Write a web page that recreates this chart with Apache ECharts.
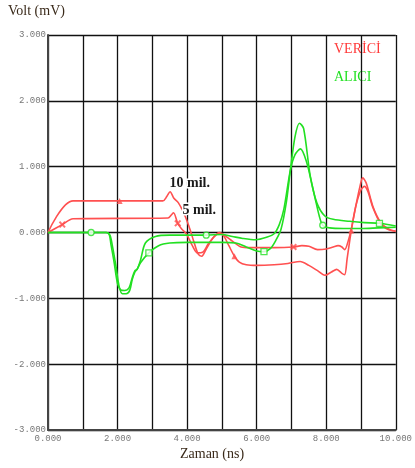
<!DOCTYPE html>
<html>
<head>
<meta charset="utf-8">
<script src="https://cdn.jsdelivr.net/npm/echarts@6/dist/echarts.min.js"></script>
<style>
  html, body { margin: 0; padding: 0; background: #ffffff; }
  #chart { width: 415px; height: 468px; }
</style>
</head>
<body>
<div id="chart"></div>
<script>
// Axis ticks
const xTicks = [0, 1, 2, 3, 4, 5, 6, 7, 8, 9, 10];
const yTicks = [-3, -2, -1, 0, 1, 2, 3];

// VERİCİ (transmitter), 10 mil trace
const tx10T = [0, 0.72, 3.3, 3.42, 3.51, 3.62, 3.75, 3.9, 4.05, 4.2, 4.32, 4.42, 4.55, 4.75, 4.93, 5.05, 5.2, 5.36, 5.5, 5.7, 6.0, 6.5, 6.9, 7.25, 7.5, 7.75, 7.96, 8.15, 8.3, 8.45, 8.53, 8.6, 8.72, 8.85, 8.97, 9.05, 9.15, 9.34, 9.57, 9.8, 10];
const tx10V = [0, 0.48, 0.48, 0.55, 0.62, 0.52, 0.45, 0.3, 0.1, -0.15, -0.33, -0.36, -0.25, -0.08, -0.01, -0.05, -0.2, -0.36, -0.45, -0.49, -0.5, -0.49, -0.47, -0.44, -0.5, -0.58, -0.65, -0.6, -0.56, -0.62, -0.64, -0.4, 0.03, 0.4, 0.7, 0.83, 0.75, 0.4, 0.15, 0.05, 0.02];

// VERİCİ, 5 mil trace
const tx5T = [0, 0.41, 0.72, 3.45, 3.55, 3.61, 3.73, 3.85, 3.98, 4.15, 4.3, 4.45, 4.6, 4.8, 4.93, 5.1, 5.3, 5.55, 5.8, 6.5, 7.06, 7.3, 7.5, 7.75, 8.0, 8.2, 8.34, 8.45, 8.53, 8.62, 8.72, 8.85, 9.0, 9.1, 9.2, 9.34, 9.57, 9.8, 10];
const tx5V = [0, 0.12, 0.21, 0.22, 0.27, 0.30, 0.14, 0.05, -0.02, -0.2, -0.31, -0.3, -0.18, -0.05, 0.0, -0.05, -0.13, -0.22, -0.23, -0.23, -0.22, -0.2, -0.21, -0.26, -0.25, -0.22, -0.2, -0.22, -0.26, -0.15, 0.05, 0.4, 0.65, 0.70, 0.62, 0.38, 0.13, 0.04, 0.02];

// ALICI (receiver), first trace
const rxAT = [0, 1.24, 1.67, 1.76, 1.81, 1.9, 2.0, 2.09, 2.2, 2.33, 2.42, 2.5, 2.56, 2.66, 2.8, 3.09, 3.5, 4.0, 4.55, 5.0, 5.3, 5.6, 5.97, 6.3, 6.5, 6.65, 6.78, 6.97, 7.1, 7.26, 7.44, 7.56, 7.68, 7.8, 7.9, 8.1, 8.5, 9.0, 9.5, 10];
const rxAV = [0, 0, 0, -0.03, -0.18, -0.45, -0.78, -0.87, -0.88, -0.84, -0.69, -0.58, -0.56, -0.42, -0.16, -0.06, -0.04, -0.04, -0.04, -0.03, -0.06, -0.09, -0.11, -0.07, -0.02, 0.12, 0.35, 0.95, 1.18, 1.27, 1.06, 0.8, 0.52, 0.25, 0.11, 0.07, 0.06, 0.06, 0.07, 0.08];

// ALICI, second trace
const rxBT = [0, 1.24, 1.67, 1.78, 1.85, 1.95, 2.05, 2.14, 2.25, 2.35, 2.42, 2.5, 2.56, 2.66, 2.9, 3.18, 3.5, 4.0, 5.0, 5.4, 5.7, 6.0, 6.21, 6.4, 6.55, 6.7, 6.85, 6.97, 7.1, 7.23, 7.35, 7.54, 7.73, 7.96, 8.2, 8.67, 9.1, 9.53, 10];
const rxBV = [0, 0, 0, -0.04, -0.2, -0.5, -0.83, -0.93, -0.93, -0.88, -0.72, -0.6, -0.56, -0.46, -0.31, -0.2, -0.16, -0.15, -0.15, -0.16, -0.22, -0.28, -0.29, -0.24, -0.12, 0.05, 0.45, 0.95, 1.45, 1.66, 1.58, 0.86, 0.45, 0.25, 0.2, 0.17, 0.15, 0.14, 0.1];

// Marker positions along each trace
const tx10MarkT = [2.06, 5.36, 8.72];
const tx10MarkV = [0.48, -0.36, 0.03];
const tx5MarkT = [0.41, 3.73, 7.06];
const tx5MarkV = [0.12, 0.14, -0.22];
const rxAMarkT = [1.24, 4.55, 7.9];
const rxAMarkV = [0, -0.04, 0.11];
const rxBMarkT = [2.9, 6.21, 9.53];
const rxBMarkV = [-0.31, -0.29, 0.14];

const zip = (a, b) => a.map((t, i) => [t, b[i]]);

const RED = '#ff5050';
const GREEN = '#22e022';
const crossPath = 'path://M0,2L2,0L5,3L8,0L10,2L7,5L10,8L8,10L5,7L2,10L0,8L3,5Z';
const serif = '"Liberation Serif", "DejaVu Serif", serif';
const mono = '"Liberation Mono", "DejaVu Sans Mono", monospace';

function traceSeries(t, v, color) {
  return {
    type: 'line', data: zip(t, v), symbol: 'none', smooth: 0.3,
    lineStyle: { color: color, width: 1.6 }, z: 3, silent: true
  };
}
function markSeries(t, v, symbol, color, size, filled) {
  return {
    type: 'scatter', data: zip(t, v), symbol: symbol, symbolSize: size,
    itemStyle: filled ? { color: color } : { color: '#fff', borderColor: color, borderWidth: 1.3 },
    z: 4, silent: true
  };
}

const chart = echarts.init(document.getElementById('chart'), null, { renderer: 'canvas' });
chart.setOption({
  animation: false,
  backgroundColor: '#ffffff',
  grid: { left: 48, right: 15, top: 35, bottom: 38 },
  xAxis: {
    type: 'value', min: xTicks[0], max: xTicks[xTicks.length - 1], interval: 1,
    axisLine: { show: true, onZero: false, lineStyle: { color: '#444', width: 2 } },
    axisTick: { show: false },
    splitLine: { show: true, lineStyle: { color: '#111', width: 1.3 } },
    axisLabel: {
      fontFamily: mono, fontSize: 9, color: '#777', margin: 4,
      formatter: v => (xTicks.includes(v) && v % 2 === 0) ? v.toFixed(3) : ''
    }
  },
  yAxis: {
    type: 'value', min: yTicks[0], max: yTicks[yTicks.length - 1], interval: 1,
    axisLine: { show: true, onZero: false, lineStyle: { color: '#444', width: 2 } },
    axisTick: { show: false },
    splitLine: { show: true, lineStyle: { color: '#111', width: 1.3 } },
    axisLabel: {
      fontFamily: mono, fontSize: 9, color: '#777', margin: 2,
      formatter: v => v.toFixed(3)
    }
  },
  series: [
    traceSeries(tx10T, tx10V, RED),
    traceSeries(tx5T, tx5V, RED),
    traceSeries(rxAT, rxAV, GREEN),
    traceSeries(rxBT, rxBV, GREEN),
    markSeries(tx10MarkT, tx10MarkV, 'triangle', RED, 6, true),
    markSeries(tx5MarkT, tx5MarkV, crossPath, RED, 7, true),
    markSeries(rxAMarkT, rxAMarkV, 'circle', GREEN, 6, false),
    markSeries(rxBMarkT, rxBMarkV, 'rect', GREEN, 6, false)
  ],
  graphic: [
    { type: 'text', left: 8, top: 4, style: { text: 'Volt (mV)', font: '14px ' + serif, fill: '#3a2a1a' } },
    { type: 'text', left: 180, top: 447, style: { text: 'Zaman (ns)', font: '14px ' + serif, fill: '#3a2a1a' } },
    { type: 'text', left: 334, top: 42, style: { text: 'VERİCİ', font: '14px ' + serif, fill: '#ff3a3a' } },
    { type: 'text', left: 334, top: 70, style: { text: 'ALICI', font: '14px ' + serif, fill: '#22e022' } },
    { type: 'text', left: 168, top: 175, z: 10, style: { text: '10 mil.', font: 'bold 14px ' + serif, fill: '#1a1a1a', stroke: '#fff', lineWidth: 3 } },
    { type: 'text', left: 181, top: 202, z: 10, style: { text: '5 mil.', font: 'bold 14px ' + serif, fill: '#1a1a1a', stroke: '#fff', lineWidth: 3 } }
  ]
});
</script>
</body>
</html>
